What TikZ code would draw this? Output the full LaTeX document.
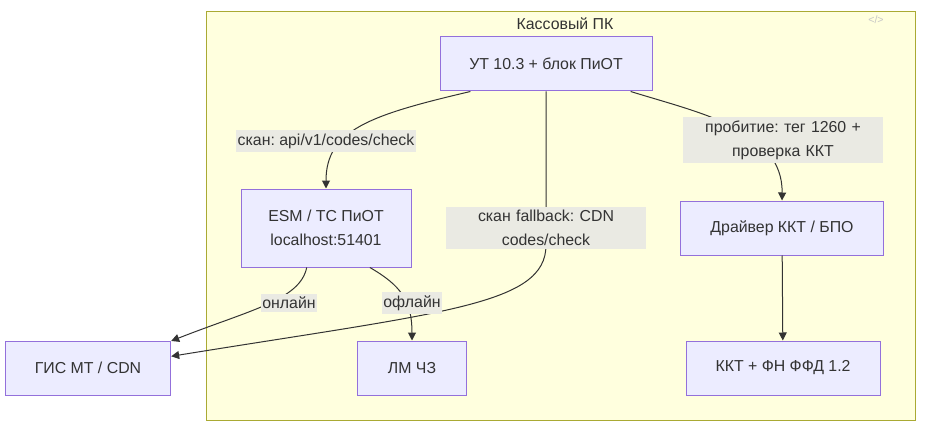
\documentclass[tikz,border=0pt]{standalone}
\usepackage{fontspec}
\setmainfont{Liberation Sans}
\usetikzlibrary{arrows.meta,positioning}
\definecolor{NodeFill}{HTML}{ECECFF}
\definecolor{NodeLine}{HTML}{9370DB}
\definecolor{ClFill}{HTML}{FFFFDE}
\definecolor{ClLine}{HTML}{AAAA33}
\definecolor{LblFill}{HTML}{EAEAE3}
\definecolor{Ink}{HTML}{333333}
\frenchspacing

\begin{document}
\begin{tikzpicture}[x=0.75pt, y=-0.75pt,
    font=\fontsize{11.9}{18}\selectfont,
    box/.style={draw=NodeLine, fill=NodeFill, line width=0.75pt,
                minimum height=40.5pt, inner sep=0pt, text=Ink, align=center},
    lbl/.style={fill=LblFill, text=Ink, inner xsep=1pt, inner ysep=2.5pt, align=center},
    edge/.style={draw=Ink, line width=0.75pt, -{Triangle[length=6pt,width=6pt]}}]

  \useasboundingbox (0,0) rectangle (928,428);

  % cluster
  \draw[draw=ClLine, fill=ClFill, line width=0.75pt] (206,12) rectangle (915,420);
  \node[text=Ink] (title) at (565,24) {Кассовый ПК};
  \node[text=gray!45, font=\fontsize{8}{10}\selectfont] (icon) at (876,20) {</>};

  % nodes
  \node[box, minimum width=159pt] (ut) at (546,64) {УТ 10.3 + блок ПиОТ};
  \node[box, minimum width=127.5pt, minimum height=58.5pt] (esm) at (326,228)
       {ESM / TC ПиОТ\\localhost:51401};
  \node[box, minimum width=152pt] (drv) at (782,228) {Драйвер ККТ / БПО};
  \node[box, minimum width=124pt] (gis) at (88,368) {ГИС МТ / CDN};
  \node[box, minimum width=82pt] (lm) at (412,368) {ЛМ ЧЗ};
  \node[box, minimum width=145.5pt] (kkt) at (783,368) {ККТ + ФН ФФД 1.2};

  % edges
  \draw[edge] (ut.-160) .. controls (370,115) and (326,130) .. (esm.north);
  \draw[edge] (ut.south) -- (546,245) .. controls (546,305) and (445,312) .. (gis.8);
  \draw[edge] (ut.-18) .. controls (700,113) and (783,130) .. (drv.north);
  \draw[edge] (esm.-116) .. controls (300,300) and (250,310) .. (gis.18);
  \draw[edge] (esm.-42) .. controls (400,285) and (412,300) .. (lm.north);
  \draw[edge] (drv) -- (kkt);

  % edge labels
  \node[lbl] (scan) at (326,141) {скан: api/v1/codes/check};
  \node[lbl, text width=148pt, inner xsep=1pt] (fallback) at (546,228)
       {скан fallback: CDN\\codes/check};
  \node[lbl, text width=148pt, inner xsep=1pt] (fiscal) at (783,140)
       {пробитие: тег 1260 +\\проверка ККТ};
  \node[lbl] (online) at (289,303) {онлайн};
  \node[lbl] (offline) at (412,303) {офлайн};
\end{tikzpicture}
\end{document}
